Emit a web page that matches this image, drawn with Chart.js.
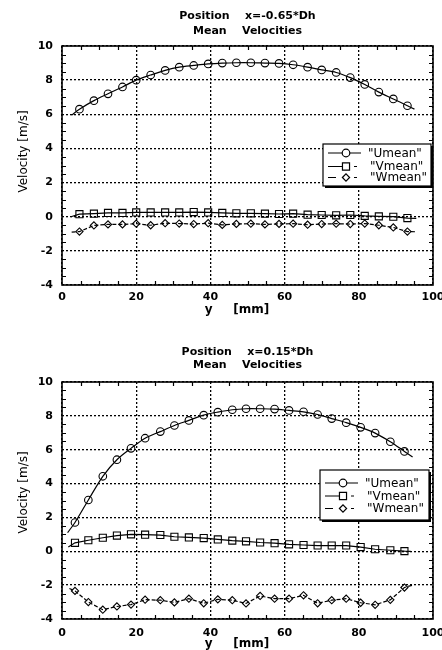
<!DOCTYPE html>
<html><head><meta charset="utf-8">
<script src="https://cdn.jsdelivr.net/npm/chart.js@4.4.0/dist/chart.umd.min.js"></script>
<style>
html,body{margin:0;padding:0;background:#fff;}
#wrap{position:relative;width:442px;height:650px;background:#fff;}
canvas{position:absolute;left:0;}
</style></head><body>
<div id="wrap">
<canvas id="c1" width="442" height="325" style="top:0"></canvas>
<canvas id="c2" width="442" height="325" style="top:325px"></canvas>
</div>
<script>
// ---------- data ----------
const xTicks = [0, 20, 40, 60, 80, 100];
const yTicks = [-4, -2, 0, 2, 4, 6, 8, 10];
const seriesNames = ['"Umean"', '"Vmean"', '"Wmean"'];

// Top chart: Position x=-0.65*Dh
const posTop = [4.7, 8.6, 12.4, 16.3, 20.0, 23.9, 27.8, 31.6, 35.5, 39.4, 43.2, 47.0, 50.9, 54.7, 58.5, 62.3, 66.2, 70.0, 73.9, 77.7, 81.6, 85.4, 89.3, 93.1];
const uTop = [6.3, 6.8, 7.2, 7.6, 8.0, 8.3, 8.57, 8.76, 8.86, 8.95, 9.0, 9.02, 9.02, 9.0, 8.98, 8.9, 8.76, 8.6, 8.45, 8.15, 7.75, 7.3, 6.9, 6.5];
const vTop = [0.15, 0.18, 0.22, 0.22, 0.25, 0.25, 0.25, 0.25, 0.27, 0.25, 0.22, 0.2, 0.2, 0.18, 0.16, 0.18, 0.12, 0.1, 0.08, 0.1, 0.05, 0.02, 0.0, -0.08];
const wTop = [-0.87, -0.51, -0.45, -0.45, -0.41, -0.5, -0.38, -0.4, -0.43, -0.38, -0.48, -0.42, -0.41, -0.45, -0.42, -0.41, -0.47, -0.43, -0.41, -0.43, -0.4, -0.5, -0.63, -0.87];
// ends of the drawn curves (start, end)
const uTopEnds = [[2.6, 5.95], [95.0, 6.3]];
const vTopEnds = [[2.4, 0.0], [95.5, -0.1]];
const wTopEnds = [[2.6, -0.9], [95.2, -0.88]];

// Bottom chart: Position x=0.15*Dh
const posBot = [3.5, 7.1, 11.0, 14.8, 18.6, 22.4, 26.5, 30.3, 34.2, 38.2, 42.0, 45.9, 49.6, 53.4, 57.3, 61.2, 65.1, 68.9, 72.7, 76.6, 80.5, 84.4, 88.5, 92.3];
const uBot = [1.7, 3.03, 4.43, 5.41, 6.08, 6.68, 7.07, 7.43, 7.73, 8.04, 8.22, 8.36, 8.42, 8.42, 8.4, 8.32, 8.24, 8.08, 7.84, 7.6, 7.32, 6.98, 6.47, 5.9];
const vBot = [0.5, 0.65, 0.8, 0.93, 1.0, 0.98, 0.96, 0.86, 0.82, 0.78, 0.7, 0.63, 0.59, 0.52, 0.48, 0.41, 0.37, 0.34, 0.34, 0.34, 0.25, 0.12, 0.06, 0.01];
const wBot = [-2.34, -3.0, -3.45, -3.26, -3.15, -2.86, -2.89, -3.02, -2.8, -3.07, -2.84, -2.89, -3.08, -2.64, -2.8, -2.8, -2.6, -3.07, -2.89, -2.8, -3.04, -3.16, -2.87, -2.14];
const uBotEnds = [[1.5, 1.1], [94.5, 5.57]];
const vBotEnds = [[1.7, 0.25], [94.0, 0.0]];
const wBotEnds = [[2.0, -2.2], [94.5, -2.0]];

// ---------- helpers ----------
function series(pos, vals, ends) {
  const pts = [{x: ends[0][0], y: ends[0][1]}];
  pos.forEach((p, i) => pts.push({x: p, y: vals[i]}));
  pts.push({x: ends[1][0], y: ends[1][1]});
  return pts;
}
function radii(n, r) { const a = [0]; for (let i = 0; i < n; i++) a.push(r); a.push(0); return a; }

const markerStyles = [
  {pointStyle: 'circle', radius: 3.8, dash: []},
  {pointStyle: 'rect', radius: 5, dash: []},
  {pointStyle: 'rectRot', radius: 3.6, dash: [4, 2]}
];

const decor = {
  id: 'decor',
  afterDraw(chart) {
    const o = chart.options.plugins.decor;
    const {ctx, chartArea: a, scales: {x, y}} = chart;
    ctx.save();
    // minor ticks (inward, all four sides)
    ctx.strokeStyle = '#000'; ctx.lineWidth = 1.2;
    ctx.beginPath();
    for (let v = xTicks[0]; v <= xTicks[xTicks.length - 1]; v += 5) {
      if (xTicks.includes(v)) continue;
      const px = Math.round(x.getPixelForValue(v)) + 0.5;
      ctx.moveTo(px, a.bottom); ctx.lineTo(px, a.bottom - 4);
      ctx.moveTo(px, a.top); ctx.lineTo(px, a.top + 4);
    }
    for (let v = yTicks[0]; v <= yTicks[yTicks.length - 1]; v += 0.5) {
      if (yTicks.includes(v)) continue;
      const py = Math.round(y.getPixelForValue(v)) + 0.5;
      ctx.moveTo(a.left, py); ctx.lineTo(a.left + 4, py);
      ctx.moveTo(a.right, py); ctx.lineTo(a.right - 4, py);
    }
    ctx.stroke();
    // frame
    ctx.lineWidth = 1.6;
    ctx.strokeRect(a.left, a.top, a.right - a.left, a.bottom - a.top);

    // titles
    ctx.fillStyle = '#000';
    ctx.textAlign = 'center'; ctx.textBaseline = 'middle';
    ctx.font = 'bold 11px "DejaVu Sans"';
    const cx = (a.left + a.right) / 2;
    ctx.fillText(o.title[0], cx, o.titleY[0]);
    ctx.fillText(o.title[1], cx, o.titleY[1]);
    // x axis title
    ctx.font = 'bold 12px "DejaVu Sans"';
    ctx.fillText('y     [mm]', o.xTitle[0], o.xTitle[1]);
    // y axis title
    ctx.save();
    ctx.translate(o.yTitle[0], o.yTitle[1]);
    ctx.rotate(-Math.PI / 2);
    ctx.font = '12px "DejaVu Sans"';
    ctx.fillText('Velocity [m/s]', 0, 0);
    ctx.restore();

    // legend box
    const L = o.legend;
    ctx.fillStyle = '#000';
    ctx.fillRect(L.left + 2, L.top + 2, L.right - L.left, L.bottom - L.top);
    ctx.fillStyle = '#fff';
    ctx.fillRect(L.left, L.top, L.right - L.left, L.bottom - L.top);
    ctx.lineWidth = 1.2; ctx.strokeStyle = '#000';
    ctx.strokeRect(L.left, L.top, L.right - L.left, L.bottom - L.top);
    ctx.font = '12px "DejaVu Sans"';
    ctx.textAlign = 'left';
    L.rows.forEach((ry, i) => {
      const m = markerStyles[i];
      const x0 = L.left + 5, xm = L.left + 23, x1 = L.left + 38;
      ctx.strokeStyle = '#000'; ctx.lineWidth = 1.2;
      ctx.beginPath();
      if (i === 0) { ctx.moveTo(x0, ry); ctx.lineTo(x1, ry); }
      else if (i === 1) { ctx.moveTo(x0, ry); ctx.lineTo(xm, ry); ctx.moveTo(xm + 8, ry); ctx.lineTo(xm + 11, ry); }
      else { ctx.moveTo(x0, ry); ctx.lineTo(x0 + 8, ry); ctx.moveTo(xm - 4, ry); ctx.lineTo(xm + 4, ry); ctx.moveTo(xm + 8, ry); ctx.lineTo(xm + 11, ry); }
      ctx.stroke();
      ctx.fillStyle = '#fff';
      Chart.helpers.drawPoint(ctx, {pointStyle: m.pointStyle, radius: m.radius, rotation: 0, borderWidth: 1.1}, xm, ry);
      ctx.fillStyle = '#000';
      ctx.fillText(seriesNames[i], L.left + (i === 0 ? 45 : 47), ry + 0.5);
    });
    ctx.restore();
  }
};

function makeChart(id, d, cfg) {
  const datasets = d.map((s, i) => ({
    label: seriesNames[i],
    data: series(s.pos, s.vals, s.ends),
    borderColor: '#000',
    borderWidth: 1.2,
    borderDash: markerStyles[i].dash,
    tension: i === 0 ? 0.3 : 0,
    pointStyle: markerStyles[i].pointStyle,
    pointRadius: radii(s.pos.length, markerStyles[i].radius),
    pointBorderColor: '#000',
    pointBorderWidth: 1.1,
    pointBackgroundColor: 'rgba(255,255,255,0)',
    fill: false
  }));
  const tickFont = {family: 'DejaVu Sans', size: 11, weight: 'bold'};
  return new Chart(document.getElementById(id), {
    type: 'line',
    data: {datasets},
    options: {
      responsive: false, animation: false, devicePixelRatio: 1,
      layout: {padding: {left: 0, right: 9, top: cfg.top, bottom: 0}},
      plugins: {legend: {display: false}, tooltip: {enabled: false}, title: {display: false}, decor: cfg.decor},
      scales: {
        x: {
          type: 'linear', min: xTicks[0], max: xTicks[xTicks.length - 1],
          afterBuildTicks(s) { s.ticks = xTicks.map(v => ({value: v})); },
          ticks: {padding: cfg.xPad, font: tickFont, color: '#000', maxRotation: 0, autoSkip: false},
          grid: {color: '#000', lineWidth: 1.3, drawTicks: false},
          border: {display: false, dash: [2, 2]},
          afterFit(s) { s.height = cfg.xh; s.paddingLeft = 0; s.paddingRight = 0; }
        },
        y: {
          type: 'linear', min: yTicks[0], max: yTicks[yTicks.length - 1],
          afterBuildTicks(s) { s.ticks = yTicks.map(v => ({value: v})); },
          ticks: {padding: 9, font: tickFont, color: '#000', autoSkip: false},
          grid: {color: '#000', lineWidth: 1.3, drawTicks: false},
          border: {display: false, dash: [2, 2]},
          afterFit(s) { s.width = 62; s.paddingTop = 0; s.paddingBottom = 0; }
        }
      }
    },
    plugins: [decor]
  });
}

makeChart('c1', [
  {pos: posTop, vals: uTop, ends: uTopEnds},
  {pos: posTop, vals: vTop, ends: vTopEnds},
  {pos: posTop, vals: wTop, ends: wTopEnds}
], {
  top: 46, xh: 40, xPad: 5.5,
  decor: {
    title: ['Position    x=-0.65*Dh', 'Mean    Velocities'], titleY: [16.5, 31.5],
    xTitle: [237, 309.5], yTitle: [24, 151.5],
    legend: {left: 323, top: 144, right: 431, bottom: 186, rows: [153, 166.5, 177.5]}
  }
});

makeChart('c2', [
  {pos: posBot, vals: uBot, ends: uBotEnds},
  {pos: posBot, vals: vBot, ends: vBotEnds},
  {pos: posBot, vals: wBot, ends: wBotEnds}
], {
  top: 57, xh: 31, xPad: 8,
  decor: {
    title: ['Position    x=0.15*Dh', 'Mean    Velocities'], titleY: [26.7, 40],
    xTitle: [237, 319], yTitle: [24, 167.5],
    legend: {left: 320, top: 145, right: 429, bottom: 195, rows: [158, 171, 183.5]}
  }
});
</script>
</body></html>
